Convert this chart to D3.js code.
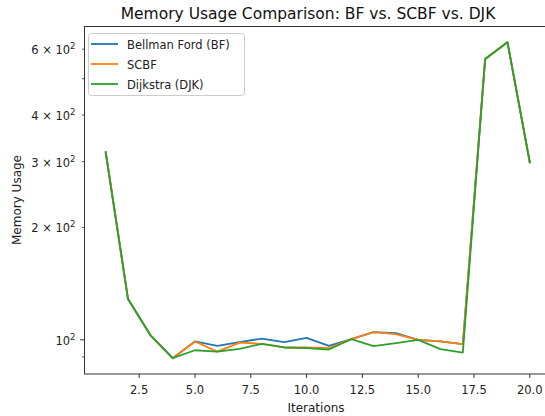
<!DOCTYPE html>
<html>
<head>
<meta charset="utf-8">
<script src="https://cdn.jsdelivr.net/npm/d3@7"></script>
<style>
  html, body { margin: 0; padding: 0; background: #fff; }
  svg { display: block; font-family: "DejaVu Sans", sans-serif; }
</style>
</head>
<body>
<svg id="chart" width="545" height="416"></svg>
<script>
const iterations = [1,2,3,4,5,6,7,8,9,10,11,12,13,14,15,16,17,18,19,20];
const bfValues   = [318,128.6,103,89.3,99,96.4,98.6,100.8,98.6,101.2,96.4,100.4,104.9,104.2,100,99,97.4,565,626,298.6];
const scbfValues = [318,128.6,103,89.3,99,93,98.3,97.6,95.4,95.4,95,100.4,104.9,103.6,100,99,97.4,565,626,298.6];
const djkValues  = [318,128.6,103,89.3,93.8,93,94.6,97.6,95.4,95,94.2,100.4,96.2,98,100,94.4,92.4,565,626,298.6];
const seriesNames = ["Bellman Ford (BF)", "SCBF", "Dijkstra (DJK)"];
const seriesColors = ["#1f77b4", "#ff7f0e", "#2ca02c"];
const xTickValues = [2.5,5,7.5,10,12.5,15,17.5,20];
const xTickLabels = ["2.5","5.0","7.5","10.0","12.5","15.0","17.5","20.0"];
const yMajorTicks = [100];
const yMinorTicks = [90,200,300,400,500,600];
const yLabelTicks = [
  {v:100, base:"10", exp:"2", mult:""},
  {v:200, base:"10", exp:"2", mult:"2 × "},
  {v:300, base:"10", exp:"2", mult:"3 × "},
  {v:400, base:"10", exp:"2", mult:"4 × "},
  {v:600, base:"10", exp:"2", mult:"6 × "}
];

const svg = d3.select("#chart");
const L = 84.5, R = 551, T = 26.5, B = 374;

// x domain with matplotlib 5% margins
const xmin = d3.min(iterations), xmax = d3.max(iterations);
const xpad = (xmax - xmin) * 0.05;
const x = d3.scaleLinear().domain([xmin - xpad, xmax + xpad]).range([L, R]);

const all = bfValues.concat(scbfValues, djkValues);
const lmin = Math.log10(d3.min(all)), lmax = Math.log10(d3.max(all));
const lpad = (lmax - lmin) * 0.05;
const y = d3.scaleLog().domain([Math.pow(10, lmin - lpad), Math.pow(10, lmax + lpad)]).range([B, T]);

// lines
const seriesData = [bfValues, scbfValues, djkValues];
const line = d3.line().x((d,i) => x(iterations[i])).y(d => y(d));
seriesData.forEach((vals, k) => {
  svg.append("path").datum(vals)
    .attr("fill", "none")
    .attr("stroke", seriesColors[k])
    .attr("stroke-width", 1.8)
    .attr("stroke-linejoin", "round")
    .attr("stroke-linecap", "square")
    .attr("d", line);
});

// spines
svg.append("rect").attr("x", L).attr("y", T).attr("width", R - L).attr("height", B - T)
  .attr("fill", "none").attr("stroke", "#333").attr("stroke-width", 1);

// x ticks
const xt = svg.append("g");
xTickValues.forEach((v, i) => {
  xt.append("line").attr("x1", x(v)).attr("x2", x(v)).attr("y1", B).attr("y2", B + 4)
    .attr("stroke", "#333").attr("stroke-width", 1);
  xt.append("text").attr("x", x(v)).attr("y", B + 20).attr("text-anchor", "middle")
    .attr("font-size", 11.5).attr("fill", "#222").text(xTickLabels[i]);
});

// y ticks
const yt = svg.append("g");
yMajorTicks.forEach(v => {
  yt.append("line").attr("x1", L - 4.5).attr("x2", L).attr("y1", y(v)).attr("y2", y(v))
    .attr("stroke", "#333").attr("stroke-width", 1);
});
yMinorTicks.forEach(v => {
  yt.append("line").attr("x1", L - 2.5).attr("x2", L).attr("y1", y(v)).attr("y2", y(v))
    .attr("stroke", "#333").attr("stroke-width", 0.8);
});
yLabelTicks.forEach(t => {
  const tx = yt.append("text").attr("x", L - 9).attr("y", y(t.v) + 5).attr("text-anchor", "end")
    .attr("font-size", 11.5).attr("fill", "#222");
  tx.append("tspan").text(t.mult + t.base);
  tx.append("tspan").attr("dy", -5).attr("font-size", 8.5).text(t.exp);
});

// title and labels
svg.append("text").attr("x", 308).attr("y", 19).attr("text-anchor", "middle")
  .attr("font-size", 15.5).attr("fill", "#111").text("Memory Usage Comparison: BF vs. SCBF vs. DJK");
svg.append("text").attr("x", 316).attr("y", 412).attr("text-anchor", "middle")
  .attr("font-size", 12).attr("fill", "#222").text("Iterations");
svg.append("text").attr("transform", "translate(21,200) rotate(-90)").attr("text-anchor", "middle")
  .attr("font-size", 12).attr("fill", "#222").text("Memory Usage");

// legend
const lg = svg.append("g");
lg.append("rect").attr("x", 88.5).attr("y", 33.5).attr("width", 156).attr("height", 62).attr("rx", 3)
  .attr("fill", "#fff").attr("fill-opacity", 0.8).attr("stroke", "#ccc").attr("stroke-width", 1);
seriesNames.forEach((name, i) => {
  const cy = 44 + i * 20;
  lg.append("line").attr("x1", 91).attr("x2", 118).attr("y1", cy).attr("y2", cy)
    .attr("stroke", seriesColors[i]).attr("stroke-width", 1.8);
  lg.append("text").attr("x", 127).attr("y", cy + 4.5).attr("font-size", 11.5).attr("fill", "#222").text(name);
});
</script>
</body>
</html>
